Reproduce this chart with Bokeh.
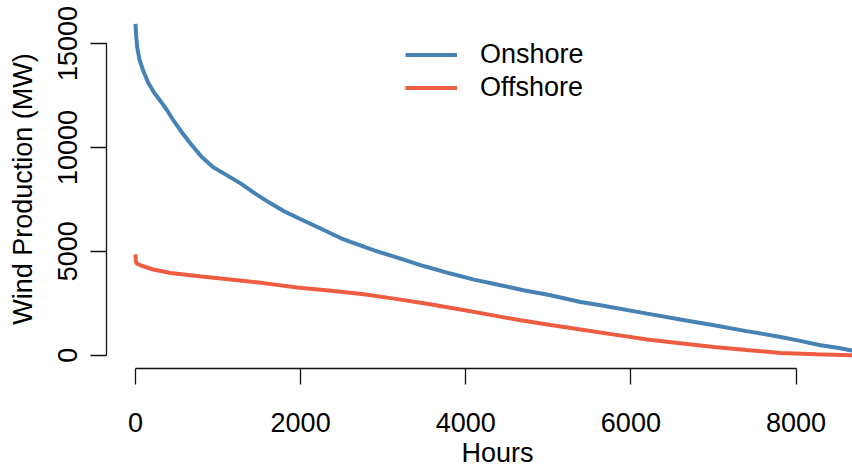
from bokeh.plotting import figure
from bokeh.models import Range1d, FixedTicker, Legend, LegendItem, Label
from bokeh.embed import file_html
from bokeh.resources import INLINE

# Load duration curves: hours of the year sorted by production
onshore_hours = [0, 10, 21, 50, 93, 150, 222, 300, 384, 460, 545, 666, 800,
                 945, 1100, 1272, 1450, 1635, 1800, 1975, 2261, 2483, 2604,
                 2900, 3210, 3500, 3815, 4100, 4421, 4700, 5027, 5390, 5632,
                 6198, 6600, 7005, 7400, 7813, 8050, 8297, 8500, 8660, 8760]
onshore_mw = [15950, 15300, 14820, 14200, 13700, 13150, 12660, 12250, 11780,
              11300, 10820, 10190, 9550, 9040, 8680, 8270, 7780, 7310, 6930,
              6590, 6060, 5640, 5450, 5030, 4650, 4280, 3930, 3640, 3365,
              3130, 2885, 2560, 2400, 2000, 1720, 1440, 1160, 880, 690, 480,
              360, 240, 150]

offshore_hours = [0, 5, 20, 60, 200, 424, 800, 1150, 1550, 1958, 2370, 2766,
                  3170, 3550, 3937, 4300, 4663, 5030, 5390, 5800, 6198, 6600,
                  7005, 7400, 7813, 8250, 8660, 8760]
offshore_mw = [4855, 4490, 4400, 4330, 4140, 3960, 3790, 3640, 3470, 3260,
               3100, 2930, 2700, 2460, 2200, 1940, 1680, 1450, 1235, 990,
               755, 570, 400, 250, 110, 40, 0, 0]

x_ticks = [0, 2000, 4000, 6000, 8000]
y_ticks = [0, 5000, 10000, 15000]

FONT = "Liberation Sans"
SIZE = "27px"
BLUE = "#4682B4"
RED = "#EE5C42"

p = figure(width=852, height=468,
           x_range=Range1d(-351, 8684), y_range=Range1d(-640, 16640),
           output_backend="svg", toolbar_location=None,
           min_border_left=106, min_border_right=0,
           min_border_top=9, min_border_bottom=100)

p.grid.visible = False
p.outline_line_color = None
p.background_fill_color = "white"
p.border_fill_color = "white"

on = p.line(onshore_hours, onshore_mw, line_color=BLUE, line_width=4)
off = p.line(offshore_hours, offshore_mw, line_color=RED, line_width=4)

for ax, ticks in ((p.xaxis[0], x_ticks), (p.yaxis[0], y_ticks)):
    ax.ticker = FixedTicker(ticks=ticks)
    ax.bounds = (ticks[0], ticks[-1])
    ax.minor_tick_line_color = None
    ax.major_tick_in = 0
    ax.major_tick_out = 16
    ax.axis_line_color = "#111111"
    ax.axis_line_width = 1.3
    ax.major_tick_line_color = "#111111"
    ax.major_tick_line_width = 1.3
    ax.major_label_text_font = FONT
    ax.major_label_text_font_size = SIZE
    ax.major_label_text_color = "black"

p.xaxis.major_label_standoff = 28
p.yaxis.major_label_standoff = 13
p.yaxis.major_label_orientation = "vertical"

p.yaxis.axis_label = "Wind Production (MW)"
p.yaxis.axis_label_text_font = FONT
p.yaxis.axis_label_text_font_size = SIZE
p.yaxis.axis_label_text_font_style = "normal"
p.yaxis.axis_label_text_color = "black"
p.yaxis.axis_label_standoff = 18

# x title centred under the full plotting region
p.add_layout(Label(x=4385, y=-4712, text="Hours", text_font=FONT,
                   text_font_size=SIZE, text_color="black",
                   text_align="center", text_baseline="middle"), "below")

legend = Legend(items=[LegendItem(label="Onshore", renderers=[on]),
                       LegendItem(label="Offshore", renderers=[off])],
                location=(299, 264), border_line_alpha=0,
                background_fill_alpha=0, padding=0, margin=0, spacing=0,
                glyph_width=52, glyph_height=33, label_height=33,
                label_standoff=23, label_text_font=FONT,
                label_text_font_size=SIZE, label_text_color="black")
p.add_layout(legend)

open("out.html", "w").write(file_html(p, INLINE))
